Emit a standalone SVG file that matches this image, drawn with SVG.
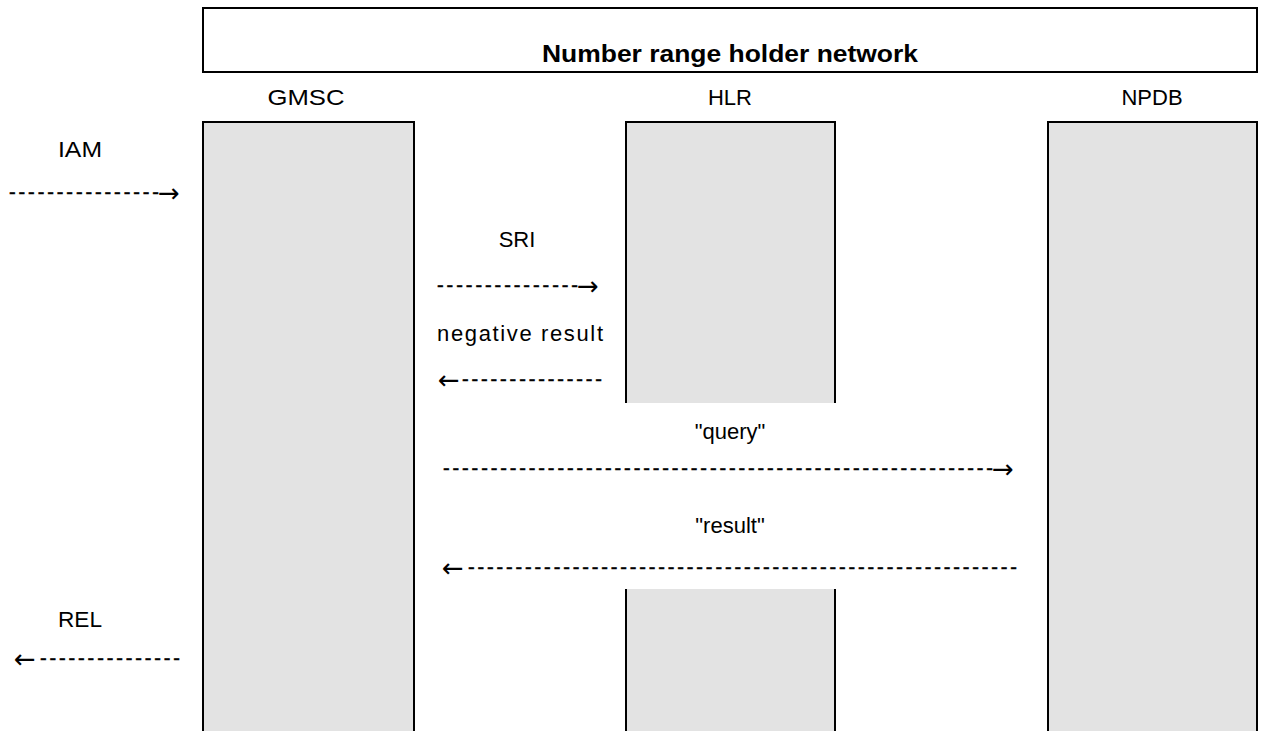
<svg xmlns="http://www.w3.org/2000/svg" width="1261" height="731" viewBox="0 0 1261 731">
<style>
.box{fill:#e3e3e3;stroke:#000;stroke-width:2}
.t{font-family:"Liberation Sans",Arial,sans-serif;font-size:22px;fill:#000}
.b{font-weight:bold;font-size:24px}
.m{text-anchor:middle}
.d{font-family:"Liberation Sans",Arial,sans-serif;font-size:20px;fill:#000;stroke:#000;stroke-width:0.5}
.a{font-family:"DejaVu Sans",sans-serif;font-size:26px;fill:#000}
</style>
<rect width="1261" height="731" fill="#fff"/>
<g id="network">
<rect x="203" y="8" width="1054" height="64" fill="#fff" stroke="#000" stroke-width="2"/>
<text class="t b m" x="730" y="62" textLength="376" lengthAdjust="spacingAndGlyphs">Number range holder network</text>
</g>
<g id="gmsc">
<rect class="box" x="203" y="122" width="211" height="620"/>
<text class="t m" x="306" y="105" textLength="77" lengthAdjust="spacingAndGlyphs">GMSC</text>
</g>
<g id="hlr">
<rect class="box" x="626" y="122" width="209" height="620"/>
<rect x="620" y="403" width="222" height="186" fill="#fff"/>
<text class="t m" x="730" y="105">HLR</text>
</g>
<g id="npdb">
<rect class="box" x="1048" y="122" width="209" height="620"/>
<text class="t m" x="1152" y="105">NPDB</text>
</g>
<g id="connectors">
<text class="t m" x="80" y="157" textLength="44" lengthAdjust="spacingAndGlyphs">IAM</text>
<text class="d" x="9" y="199" textLength="150" lengthAdjust="spacing">----------------</text>
<text class="a" x="158" y="202">→</text>
<text class="t m" x="517" y="247">SRI</text>
<text class="d" x="437" y="292" textLength="141" lengthAdjust="spacing">---------------</text>
<text class="a" x="577" y="295">→</text>
<text class="t" x="437" y="341" textLength="166" lengthAdjust="spacing">negative result</text>
<text class="a" x="438" y="389">←</text>
<text class="d" x="462" y="386" textLength="140" lengthAdjust="spacing">---------------</text>
<text class="t m" x="730" y="439">"query"</text>
<text class="d" x="443" y="475" textLength="550" lengthAdjust="spacing">----------------------------------------------------------</text>
<text class="a" x="992" y="478">→</text>
<text class="t m" x="730" y="533">"result"</text>
<text class="a" x="442" y="577">←</text>
<text class="d" x="468" y="574" textLength="549" lengthAdjust="spacing">----------------------------------------------------------</text>
<text class="t m" x="80" y="627" textLength="44" lengthAdjust="spacingAndGlyphs">REL</text>
<text class="a" x="14" y="668">←</text>
<text class="d" x="40" y="665" textLength="140" lengthAdjust="spacing">---------------</text>
</g>
</svg>
